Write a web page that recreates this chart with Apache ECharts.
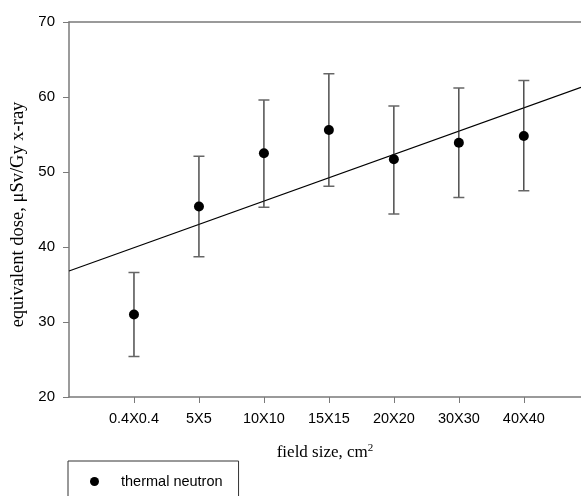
<!DOCTYPE html>
<html>
<head>
<meta charset="utf-8">
<script src="https://cdn.jsdelivr.net/npm/echarts@6/dist/echarts.min.js"></script>
<style>html,body{margin:0;padding:0;background:#fff}#c{width:581px;height:496px}</style>
</head>
<body>
<div id="c"></div>
<script>
const categories = ['0.4X0.4', '5X5', '10X10', '15X15', '20X20', '30X30', '40X40'];
const positions = [1, 2, 3, 4, 5, 6, 7];
const doseMean = [31.0, 45.4, 52.5, 55.6, 51.7, 53.9, 54.8];
const doseLow = [25.4, 38.7, 45.3, 48.1, 44.4, 46.6, 47.5];
const doseHigh = [36.6, 52.1, 59.6, 63.1, 58.8, 61.2, 62.2];
const fitX = [0, 7.88];
const fitY = [36.8, 61.3];
const yTicks = [20, 30, 40, 50, 60, 70];

const chart = echarts.init(document.getElementById('c'));
const axisGray = '#7a7a7a';
const sans = '"Liberation Sans", Arial, sans-serif';
const serif = '"Liberation Serif", "Times New Roman", serif';

chart.setOption({
  animation: false,
  backgroundColor: '#fff',
  grid: { left: 69, right: 0, top: 22, bottom: 99, containLabel: false },
  legend: {
    left: 68, top: 461,
    orient: 'horizontal',
    data: [{ name: 'thermal neutron', icon: 'circle' }],
    itemWidth: 9, itemHeight: 9,
    padding: [13, 16, 30, 22],
    borderColor: '#333', borderWidth: 1,
    textStyle: { fontFamily: sans, fontSize: 14.5, color: '#000', padding: [0, 0, 0, 17] }
  },
  xAxis: [{
    type: 'value', min: 0, max: 7.88, interval: 1,
    name: '{a|field size, cm}{sup|2}',
    nameLocation: 'middle', nameGap: 46,
    nameTextStyle: {
      rich: {
        a: { fontFamily: serif, fontSize: 17, color: '#000' },
        sup: { fontFamily: serif, fontSize: 11, color: '#000', padding: [0, 0, 8, 0] }
      }
    },
    axisLine: { show: true, onZero: false, lineStyle: { color: axisGray, width: 1.5 } },
    axisTick: { show: true, length: 6, customValues: positions, lineStyle: { color: axisGray, width: 1 } },
    axisLabel: {
      customValues: positions, margin: 14,
      fontFamily: sans, fontSize: 14.5, color: '#000',
      formatter: v => categories[positions.indexOf(Math.round(v))] || ''
    },
    splitLine: { show: false }
  }, {
    type: 'value', position: 'top', min: 0, max: 7.88,
    axisLine: { show: true, lineStyle: { color: axisGray, width: 1.5 } },
    axisTick: { show: false }, axisLabel: { show: false }, splitLine: { show: false }
  }],
  yAxis: {
    type: 'value', min: yTicks[0], max: yTicks[yTicks.length - 1], interval: 10,
    name: 'equivalent dose, μSv/Gy x-ray',
    nameLocation: 'middle', nameGap: 39, nameRotate: 90,
    nameTextStyle: { fontFamily: serif, fontSize: 18.5, color: '#000', padding: [0, 10, 0, 0] },
    axisLine: { show: true, lineStyle: { color: axisGray, width: 1.5 } },
    axisTick: { show: true, length: 6, lineStyle: { color: axisGray, width: 1 } },
    axisLabel: { margin: 14, fontFamily: sans, fontSize: 15, color: '#000' },
    splitLine: { show: false }
  },
  series: [{
    name: 'fit', type: 'line', xAxisIndex: 0,
    data: fitX.map((x, i) => [x, fitY[i]]),
    showSymbol: false, symbol: 'none',
    lineStyle: { color: '#000', width: 1.2 },
    silent: true, z: 2
  }, {
    name: 'errorbars', type: 'custom', xAxisIndex: 0,
    data: positions.map((p, i) => [p, doseLow[i], doseHigh[i]]),
    renderItem: (params, api) => {
      const x = api.value(0);
      const lo = api.coord([x, api.value(1)]);
      const hi = api.coord([x, api.value(2)]);
      const hw = 5.5;
      return {
        type: 'group',
        children: [
          { type: 'line', shape: { x1: lo[0], y1: lo[1], x2: hi[0], y2: hi[1] }, style: { stroke: '#222', lineWidth: 1.2 } },
          { type: 'line', shape: { x1: hi[0] - hw, y1: hi[1], x2: hi[0] + hw, y2: hi[1] }, style: { stroke: '#666', lineWidth: 1.5 } },
          { type: 'line', shape: { x1: lo[0] - hw, y1: lo[1], x2: lo[0] + hw, y2: lo[1] }, style: { stroke: '#666', lineWidth: 1.5 } }
        ]
      };
    },
    z: 3, silent: true
  }, {
    name: 'thermal neutron', type: 'scatter', xAxisIndex: 0,
    data: positions.map((p, i) => [p, doseMean[i]]),
    symbol: 'circle', symbolSize: 10,
    itemStyle: { color: '#000', opacity: 1 },
    z: 4
  }]
});
</script>
</body>
</html>
